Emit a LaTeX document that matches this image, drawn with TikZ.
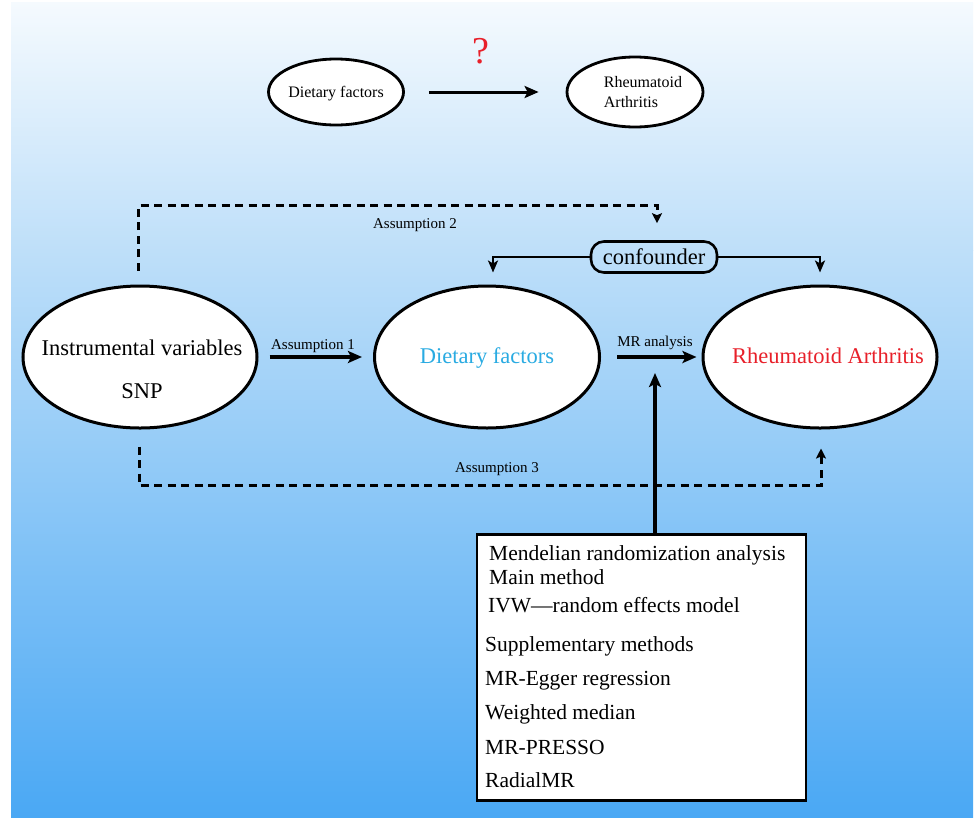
\documentclass[tikz,border=0pt]{standalone}
\usepackage{fontspec}
\setmainfont{Liberation Serif}
\newfontfamily\tms{Liberation Serif}
\usetikzlibrary{shapes.geometric,arrows.meta}
\definecolor{bgtop}{RGB}{245,250,254}
\definecolor{bgmid}{RGB}{190,223,249}
\definecolor{bgbot}{RGB}{74,168,244}
\definecolor{dfblue}{RGB}{41,171,226}
\definecolor{rared}{RGB}{232,32,42}
\begin{document}
\begin{tikzpicture}[x=1pt,y=-1pt,
  ell/.style={ellipse, draw=black, fill=white, line width=2.6pt, inner sep=0pt},
  arr/.style={line width=3.2pt, -{Stealth[length=14pt,width=12pt,inset=3pt]}},
  arrs/.style={line width=2.8pt, -{Stealth[length=12pt,width=10pt,inset=3pt]}},
  dashline/.style={line width=3pt, dash pattern=on 8pt off 5.5pt},
  small/.style={font=\tms\fontsize{15}{17}\selectfont, inner sep=0pt, text height=10pt, text depth=0pt},
  big/.style={font=\tms\fontsize{22.5}{26}\selectfont, inner sep=0pt, text height=14.5pt, text depth=0pt},
  topt/.style={font=\tms\fontsize{16}{20}\selectfont, inner sep=0pt},
  boxtxt/.style={font=\tms\fontsize{21.5}{24}\selectfont, anchor=west, inner sep=0pt, text height=14pt, text depth=0pt},
]
\useasboundingbox (0,0) rectangle (976,817);
\fill[white] (0,0) rectangle (976,817);
\shade[top color=bgtop, bottom color=bgmid] (11,2) rectangle (973,250.5);
\shade[top color=bgmid, bottom color=bgbot] (11,250) rectangle (973,817);

% top row
\node[ell, line width=2.8pt, minimum width=135pt, minimum height=66pt] (tdf) at (336,92) {};
\node[topt, text height=11pt, text depth=0pt] (tdft) at (tdf.center) {Dietary factors};
\node[ell, line width=2.8pt, minimum width=136pt, minimum height=70pt] (tra) at (635,92) {};
\node[topt, align=left] (trat) at (643,92) {Rheumatoid\\Arthritis};
\node[text=rared, font=\tms\fontsize{38}{40}\selectfont, inner sep=0pt] (q) at (481,51) {?};
\draw[arr, line width=3pt] ([xshift=24pt]tdf.east) -- ([xshift=-27pt]tra.west);

% middle row
\node[ell, line width=3pt, minimum width=234pt, minimum height=142pt] (iv) at (140,357) {};
\node[big] (ivt1) at (142,348) {Instrumental variables};
\node[big] (ivt2) at (142,391) {SNP};
\node[ell, line width=3pt, minimum width=225pt, minimum height=142pt] (df) at (487,357) {};
\node[big, text=dfblue] (dft) at (487,356) {Dietary factors};
\node[ell, line width=3pt, minimum width=234pt, minimum height=142pt] (ra) at (820,357) {};
\node[big, text=rared] (rat) at (828,356) {Rheumatoid Arthritis};

\draw[arr] ([xshift=11pt]iv.east) -- ([xshift=-11pt]df.west);
\node[small] (a1) at (313,344) {Assumption 1};
\draw[arr] ([xshift=16pt]df.east) -- ([xshift=-5pt]ra.west);
\node[small] (mra) at (655,341) {MR analysis};

% confounder
\node[draw, line width=2.6pt, rounded corners=13pt, minimum width=126pt, minimum height=31pt, big] (conf) at (654,257) {confounder};
\draw[arrs] (conf.west) -| ([xshift=6pt,yshift=12pt]df.north);
\draw[arrs] (conf.east) -| ([yshift=12pt]ra.north);

% assumption 2
\draw[dashline, -{Stealth[length=10pt,width=10pt,inset=2pt]}] ([xshift=-2pt,yshift=14pt]iv.north) -- ([xshift=-2pt,yshift=79pt]iv.north) -| ([xshift=3pt,yshift=17pt]conf.north);
\node[small] (a2) at (415,223) {Assumption 2};

% assumption 3
\draw[dashline, -{Stealth[length=10pt,width=10pt,inset=2pt]}] ([xshift=-1pt,yshift=-17pt]iv.south) -- ([xshift=-1pt,yshift=-56pt]iv.south) -| ([xshift=1pt,yshift=-19pt]ra.south);
\node[small] (a3) at (497,467) {Assumption 3};

% methods box
\node[draw, line width=2.4pt, fill=white, minimum width=329pt, minimum height=266pt, inner sep=0pt] (mr) at (641.5,667.5) {};
\coordinate (mrtip) at (655,373);
\draw[arr] ([xshift=13.5pt]mr.north) -- (mrtip);
\node[boxtxt] (l1) at (489,553) {Mendelian randomization analysis};
\node[boxtxt] (l2) at (489,577) {Main method};
\node[boxtxt] (l3) at (488,605) {IVW—random effects model};
\node[boxtxt] (l4) at (485,644) {Supplementary methods};
\node[boxtxt] (l5) at (485,678) {MR-Egger regression};
\node[boxtxt] (l6) at (485,712) {Weighted median};
\node[boxtxt] (l7) at (485,747) {MR-PRESSO};
\node[boxtxt] (l8) at (485,780) {RadialMR};
\end{tikzpicture}
\end{document}
